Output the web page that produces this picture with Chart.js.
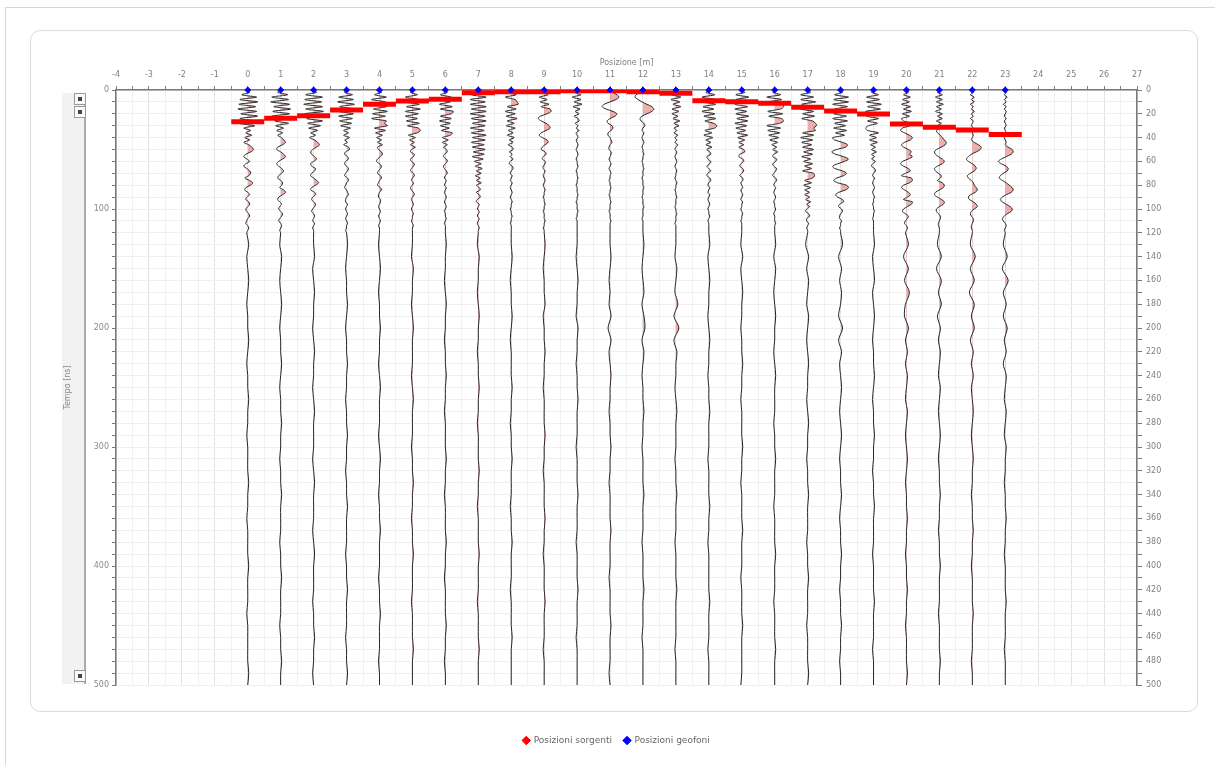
<!DOCTYPE html>
<html>
<head>
<meta charset="utf-8">
<title>Sismogramma</title>
<script src="https://cdn.jsdelivr.net/npm/chart.js@4"></script>
<style>
  html, body { margin: 0; padding: 0; background: #fff; }
  #page { position: relative; width: 1215px; height: 765px; overflow: hidden; }
  .frame { position: absolute; left: 5px; top: 7px; right: -10px; bottom: -10px;
           border-top: 1.5px solid #d6d6d6; border-left: 1.5px solid #d6d6d6; }
  .card { position: absolute; left: 30px; top: 30px; width: 1166px; height: 680px;
          border: 1.5px solid #dcdcdc; border-radius: 10px; }
  .slider { position: absolute; left: 62px; top: 93px; width: 22px; height: 591px;
            background: #f2f2f2; border-right: 2px solid #ababab; }
  .btn { position: absolute; left: 74px; width: 10px; height: 10px;
         border: 1px solid #9a9a9a; background: #fafafa; }
  .btn::after { content: ''; position: absolute; left: 3px; top: 3px; width: 4px; height: 4px; background: #444; }
  canvas { position: absolute; left: 0; top: 0; }
</style>
</head>
<body>
<div id="page">
  <div class="frame"></div>
  <div class="card"></div>
  <div class="slider"></div>
  <div class="btn" style="top:93px"></div>
  <div class="btn" style="top:106px"></div>
  <div class="btn" style="top:670px"></div>
  <canvas id="chart" width="1215" height="765"></canvas>
</div>
<script>
// geophone positions along the line [m]
const geophoneX = [0, 1, 2, 3, 4, 5, 6, 7, 8, 9, 10, 11, 12, 13, 14, 15, 16, 17, 18, 19, 20, 21, 22, 23];
const sourceX = [10.5];

// first-break picks [ns], one per geophone
const firstBreakNs = [26.7, 23.8, 21.6, 16.8, 12.0, 9.3, 7.8, 2.3, 1.4, 1.4, 0.6, 0.6,
                      1.4, 2.8, 9.0, 9.8, 11.2, 14.6, 17.7, 20.2, 28.6, 31.4, 33.7, 37.3];

// sample times [ns]: dense near the top, coarse further down
const headTimesNs = [0, 2, 4, 6, 8, 10, 12, 14, 16, 18, 20, 22, 24, 26, 28, 30, 32, 34, 36, 38,
                     40, 42, 44, 46, 48, 50, 52, 54, 56, 58, 60, 62, 64, 66, 68, 70, 72, 74, 76, 78,
                     80, 82, 84, 86, 88, 90, 92, 94, 96, 98, 100, 102, 104, 106, 108, 110, 112, 114, 116, 118, 120];
const tailTimesNs = [130, 140, 150, 160, 170, 180, 190, 200, 210, 220, 230, 240, 250, 260, 270, 280, 290, 300, 310, 320,
                     330, 340, 350, 360, 370, 380, 390, 400, 410, 420, 430, 440, 450, 460, 470, 480, 490, 500];

// trace amplitudes (1 unit = AMP_M metres of horizontal deflection)
const wiggleHead = [
  [0,2,-6,9,-8,10,-9,8,-10,9, -7,10,-8,6,-9,7,-4,3,-2,4, -3,2,-4,1,4,6,3,-2,-4,-1, 2,-2,-4,-1,2,3,1,-3,2,5, 3,-2,-3,0,2,-1,-2,1,2,0, -2,-1,1,2,0,-1,-2,0,1,0, -1],
  [0,-3,7,-9,8,-10,9,-7,10,-8, 9,-9,7,-6,8,-5,3,-4,2,-3, 1,3,5,2,-3,-4,0,3,5,2, -2,-4,-2,1,3,1,-2,-3,0,2, 1,-1,3,5,2,-2,-3,-1,1,-1, -2,0,2,1,-1,-2,0,1,0,-1, 0],
  [0,3,-8,9,-9,8,-10,9,-8,10, -9,8,-7,9,-6,7,-5,4,-3,2, -4,1,4,6,3,-1,-3,-2,1,3, 0,-3,-2,2,1,-2,-3,0,3,5, 2,-2,-3,1,2,-1,-2,0,2,1, -1,-2,0,1,0,-1,1,0,-1,0, 0],
  [0,-2,6,-8,7,-9,8,-7,9,-8, 7,-8,6,-7,5,-6,4,-3,2,-3, 3,-2,1,-3,2,3,-1,-2,1,2, -1,-2,0,2,1,-1,-2,1,2,0, -1,-2,0,1,2,0,-1,-1,1,0, -1,0,1,0,-1,0,1,0,0,-1, 0],
  [0,2,-5,7,-8,6,-8,7,-6,8, -7,6,-8,7,5,8,-5,6,-4,3, -3,2,-2,3,-2,-1,2,3,1,-2, -3,0,2,1,-1,-2,1,2,0,-1, -2,1,2,0,-1,-1,1,1,0,-1, 0,1,0,-1,0,1,0,-1,0,0, 0],
  [0,-2,5,-7,6,-8,7,-6,8,-7, 6,-7,5,-6,7,-5,6,8,5,-4, 3,-3,2,-2,3,-1,-2,2,1,-2, -1,2,1,-1,-2,1,2,0,-1,1, 0,-2,-1,1,2,0,-1,0,1,0, -1,0,1,0,0,-1,0,1,0,0, 0],
  [0,2,-5,6,-7,5,-6,7,-5,8, 6,-5,6,-6,5,-5,4,-4,7,5, -3,3,-3,2,-2,1,2,-1,-2,1, 2,0,-2,-1,1,2,0,-1,1,0, -1,1,0,-1,0,1,0,-1,0,1, 0,-1,0,0,1,0,-1,0,0,0, 0],
  [0,3,-7,8,-8,7,-8,8,-7,8, -8,7,-7,8,-6,7,-8,6,-7,8, -6,7,-7,6,-6,7,-5,6,-6,5, -4,3,-3,4,-2,3,-3,2,-2,3, -2,1,2,-2,1,2,-1,-2,1,0, -1,1,0,-1,1,0,-1,0,1,0, 0],
  [0,-2,5,-6,4,6,7,-4,5,-6, 4,-5,6,-4,3,-5,4,-3,2,-4, 3,-2,2,-3,1,2,-2,1,-1,2, -1,-2,1,2,0,-1,1,0,-1,1, 0,-1,0,1,0,-1,0,1,0,0, -1,0,0,1,0,0,-1,0,0,0, 0],
  [0,-2,4,-5,3,-4,5,-3,6,7, 3,-4,-6,-3,2,5,6,2,-3,-5, -2,3,4,1,-2,-3,1,2,-1,-2, 1,1,-1,-1,1,0,-1,0,1,0, -1,0,1,0,0,-1,0,0,1,0, 0,-1,0,0,0,1,0,0,-1,0, 0],
  [0,-3,4,-5,4,-3,5,-4,3,-2, 2,-3,1,2,-2,1,-1,2,-1,0, 1,-1,0,1,0,-1,0,1,0,-1, 0,0,1,0,-1,0,0,1,0,0, -1,0,0,0,1,0,0,-1,0,0, 0,1,0,0,-1,0,0,0,0,0, 0],
  [0,3,7,9,6,0,-6,-8,-4,3, 7,5,0,-3,-2,2,3,1,-2,-2, 0,1,2,0,-1,-1,1,1,0,-1, 0,1,0,-1,0,1,0,0,-1,0, 0,1,0,0,-1,0,0,1,0,0, 0,-1,0,0,0,1,0,0,0,0, 0],
  [0,-3,-7,-8,-5,-1,4,9,11,9, 4,-1,-3,-2,1,2,0,-1,1,0, -1,0,1,0,-1,0,0,1,0,0, -1,0,0,1,0,0,0,-1,0,0, 0,1,0,0,0,-1,0,0,0,1, 0,0,0,0,-1,0,0,0,0,0, 0],
  [0,2,-4,5,-5,4,-3,5,-4,3, -4,2,-3,4,-2,3,-2,1,-2,2, -1,1,-1,2,0,-1,1,0,-1,0, 1,0,-1,0,1,0,0,-1,0,1, 0,0,-1,0,0,1,0,0,0,-1, 0,0,1,0,0,0,-1,0,0,0, 0],
  [0,-3,6,-7,6,-7,7,-6,5,-7, 6,-5,7,-4,5,8,6,-4,3,-5, 4,-3,2,-3,3,-2,1,2,-2,-1, 2,1,-2,0,2,-1,-2,1,2,0, -1,1,0,-1,1,0,-1,0,1,0, -1,0,0,1,0,-1,0,0,0,0, 0],
  [0,3,-6,7,-6,7,-7,6,-7,5, -6,7,-5,6,-7,5,-6,4,-5,6, -4,3,-3,2,-3,2,3,-2,-3,1, 2,-1,-2,1,2,0,-2,1,1,-1, 0,1,-1,0,1,0,-1,1,0,0, -1,0,1,0,0,-1,0,0,0,0, 0],
  [0,-2,6,-8,7,-6,8,9,6,-7, 8,-6,7,9,5,-8,6,-7,5,-6, 4,-5,3,-3,2,-2,3,-1,-2,2, 1,-2,-1,2,1,-1,-2,1,2,0, -1,1,0,-1,0,1,0,-1,0,0, 1,0,-1,0,0,0,1,0,0,0, 0],
  [0,3,-7,6,-7,8,-6,7,-7,6, -5,7,-6,5,8,9,6,8,-5,6, -7,5,-6,4,-5,6,-4,5,-6,3, -4,5,-3,4,-5,6,7,5,-3,4, -4,3,-3,2,-3,2,-2,3,-1,2, -1,-2,1,2,-1,-1,1,0,-1,0, 0],
  [0,2,-6,8,-7,8,-8,7,-6,8, -7,6,-8,7,-6,5,-7,6,-5,4, -8,-6,2,7,5,-4,-9,-5,3,8, 4,-3,-8,-6,2,6,3,-4,-7,-3, 6,8,5,-2,-5,-3,2,3,-1,-2, 1,2,0,-1,-1,1,0,0,-1,0, 0],
  [0,-2,5,-7,6,-7,8,-6,7,-8, 6,-7,5,-6,4,-5,-8,-6,5,-4, 3,-4,4,-3,2,-2,3,-2,1,-2, 2,-1,-2,1,2,0,-1,1,0,-1, 0,1,0,-1,0,1,0,0,-1,0, 0,1,0,0,-1,0,0,0,0,0, 0],
  [0,2,-3,4,-4,3,-5,4,-3,5, -4,3,-5,-3,4,3,-4,-6,-2,3, 6,4,-2,-5,-3,2,5,3,6,2, -4,-6,-3,2,4,-1,-5,5,6,3, -3,-5,-2,2,4,1,-3,6,5,1, -3,-4,-1,2,1,-1,-2,0,1,0, -1],
  [0,-2,3,-4,3,-3,4,-3,2,-4, 3,-2,3,-3,2,-2,1,-3,-2,1, 3,5,7,6,2,-3,-5,-4,-1,3, 5,3,-2,-5,-4,-1,2,1,-2,3, 5,4,0,-4,-5,-2,2,5,4,0, -3,-3,-1,1,1,0,-1,-1,0,0, 0],
  [0,1,-2,2,-1,2,-2,1,-1,2, -1,1,-2,1,0,-1,1,-1,0,1, 0,-1,2,6,9,8,4,-1,-4,-6, -4,0,3,4,2,-2,-5,-4,-1,1, 2,4,5,3,-2,-4,-3,1,4,5, 2,-1,-2,-1,1,1,0,-1,-1,0, 0],
  [0,1,-1,2,-1,1,-2,1,-1,1, 0,-1,1,-1,0,1,-1,0,1,0, -1,0,1,0,3,7,8,6,1,-4, -7,-4,1,3,2,-2,-5,-6,-3,1, 4,7,8,6,1,-3,-5,-3,1,5, 7,6,2,-1,-3,-2,0,1,0,-1, 0]
];
const wiggleTail = [
  [1,-1,0,1,0,-1,0,0,1,0, -1,0,0,1,0,0,-1,0,0,0, 1,0,0,-1,0,0,0,1,0,0, 0,-1,0,0,0,0,1,0],
  [-1,1,0,-1,0,1,0,-1,0,0, 1,0,-1,0,0,1,0,0,-1,0, 0,1,0,0,0,-1,0,0,1,0, 0,0,-1,0,0,1,0,0],
  [0,1,-1,0,1,0,0,-1,0,1, 0,0,-1,0,1,0,0,0,-1,0, 1,0,0,0,-1,0,1,0,0,0, -1,0,0,1,0,0,-1,0],
  [1,0,-1,0,0,1,0,-1,0,0, 1,0,0,-1,0,0,1,0,0,-1, 0,0,1,0,0,0,-1,0,0,1, 0,0,0,-1,0,0,1,0],
  [-1,0,1,0,-1,0,0,1,0,0, -1,0,1,0,0,0,-1,0,1,0, 0,-1,0,0,1,0,0,0,-1,0, 0,1,0,0,0,-1,0,0],
  [0,-1,1,0,0,-1,0,1,0,0, 0,-1,0,1,0,0,0,-1,0,0, 1,0,0,-1,0,0,1,0,0,0, -1,0,0,0,1,0,0,0],
  [1,0,0,-1,0,1,0,0,-1,0, 0,1,0,0,-1,0,0,0,1,0, 0,-1,0,0,0,1,0,0,-1,0, 0,0,1,0,0,-1,0,0],
  [-1,1,0,0,-1,0,1,0,0,-1, 0,0,1,0,0,-1,0,0,0,1, 0,0,-1,0,0,0,1,0,0,0, -1,0,0,0,1,0,0,0],
  [0,1,0,-1,0,0,1,0,-1,0, 0,0,1,0,0,-1,0,0,1,0, 0,0,-1,0,0,1,0,0,0,-1, 0,0,0,1,0,0,0,0],
  [1,0,-1,0,0,1,-1,0,0,1, 0,0,-1,0,0,0,1,0,0,-1, 0,0,0,1,0,0,-1,0,0,0, 1,0,0,0,-1,0,0,0],
  [0,-1,0,1,0,0,-1,1,0,0, -1,0,0,1,0,0,0,-1,0,0, 0,1,0,0,0,-1,0,0,0,1, 0,0,0,-1,0,0,0,0],
  [0,1,0,-1,0,-1,1,-2,1,-1, 0,1,0,0,-1,0,0,1,0,0, -1,0,0,0,1,0,0,0,-1,0, 0,0,1,0,0,0,-1,0],
  [1,0,-1,0,1,-1,1,2,-1,1, 0,-1,0,0,1,0,0,-1,0,0, 0,1,0,0,0,-1,0,0,0,1, 0,0,0,-1,0,0,0,0],
  [0,-1,1,0,-1,2,-2,3,-2,1, 0,0,-1,0,1,0,0,0,-1,0, 0,1,0,0,0,-1,0,0,0,1, 0,0,0,0,-1,0,0,0],
  [1,-1,0,1,0,0,-1,0,1,0, 0,-1,0,0,1,0,0,0,-1,0, 0,0,1,0,0,-1,0,0,0,0, 1,0,0,0,-1,0,0,0],
  [-1,1,-1,0,1,0,0,-1,0,0, 1,0,0,-1,0,0,0,1,0,0, -1,0,0,0,1,0,0,0,-1,0, 0,0,1,0,0,0,0,-1],
  [1,-1,1,0,-1,0,1,0,0,-1, 0,1,0,0,0,-1,0,0,1,0, 0,0,-1,0,0,0,1,0,0,0, -1,0,0,0,1,0,0,0],
  [-2,1,-1,1,0,-1,1,0,-1,0, 1,0,0,-1,0,1,0,0,-1,0, 0,1,0,0,0,-1,0,0,1,0, 0,0,-1,0,0,0,1,0],
  [2,-2,1,-1,1,0,-2,2,-2,1, -1,0,1,0,-1,0,1,0,-1,0, 0,1,0,-1,0,0,1,0,0,-1, 0,0,1,0,0,-1,0,0],
  [1,-1,0,1,-1,0,1,0,-1,0, 0,1,0,-1,0,0,1,0,0,-1, 0,0,1,0,0,0,-1,0,0,0, 1,0,0,0,-1,0,0,0],
  [2,-3,2,-2,3,-1,-2,2,-1,1, -1,1,0,-1,1,0,-1,0,1,0, -1,0,0,1,0,0,-1,0,0,1, 0,0,-1,0,0,0,1,0],
  [-2,2,-3,2,-1,2,-2,1,-1,1, 0,-1,1,0,-1,0,1,0,-1,0, 0,1,0,0,-1,0,0,1,0,0, 0,-1,0,0,0,1,0,0],
  [-2,3,-2,2,-3,2,-1,2,-2,1, -1,1,-1,0,1,0,-1,0,1,0, 0,-1,0,0,1,0,0,-1,0,0, 0,1,0,0,0,-1,0,0],
  [-2,2,-3,3,-2,1,-2,2,-1,1, -2,1,0,-1,1,0,-1,1,0,0, -1,0,0,1,0,0,-1,0,0,0, 1,0,0,0,-1,0,0,0]
];

const AMP_M = 0.03;
const LOBE_COLOR = 'rgba(228, 90, 90, 0.5)';
const AXIS_COLOR = '#7a7a7a';

Chart.defaults.font.family = '"DejaVu Sans", sans-serif';
Chart.defaults.font.size = 8;
Chart.defaults.color = '#808080';

// fill only the right-hand (positive) side of a trace: hard-stop gradient at the trace baseline
const positiveFill = xPos => ctx => {
  const chart = ctx.chart;
  const sx = chart.scales.x;
  const px = sx ? sx.getPixelForValue(xPos) : NaN;
  if (!isFinite(px)) return 'rgba(0,0,0,0)';
  const g = chart.ctx.createLinearGradient(px - 0.5, 0, px + 0.5, 0);
  g.addColorStop(0, 'rgba(0,0,0,0)');
  g.addColorStop(0.5, 'rgba(0,0,0,0)');
  g.addColorStop(0.5, LOBE_COLOR);
  g.addColorStop(1, LOBE_COLOR);
  return g;
};

const traceSets = geophoneX.map((gx, i) => {
  const pts = headTimesNs.map((t, k) => ({ x: gx + wiggleHead[i][k] * AMP_M, y: t }))
    .concat(tailTimesNs.map((t, k) => ({ x: gx + wiggleTail[i][k] * AMP_M, y: t })));
  return {
    label: 'Traccia ' + (i + 1),
    data: pts,
    xAxisID: 'x', yAxisID: 'y',
    borderColor: '#262626',
    borderWidth: 1,
    pointRadius: 0,
    tension: 0.3,
    fill: { target: { value: gx } },
    backgroundColor: positiveFill(gx)
  };
});

const pickPoints = [];
geophoneX.forEach((gx, i) => {
  pickPoints.push({ x: gx - 0.5, y: firstBreakNs[i] }, { x: gx + 0.5, y: firstBreakNs[i] }, { x: null, y: null });
});

const datasets = [
  {
    label: 'Posizioni sorgenti',
    data: sourceX.map(x => ({ x: x, y: 0 })),
    xAxisID: 'x', yAxisID: 'y',
    order: 1,               // sits underneath the first-break line
    showLine: false,
    pointStyle: 'rectRot',
    pointRadius: 2.5,
    backgroundColor: '#ff0000',
    borderColor: '#ff0000'
  },
  {
    label: 'Posizioni geofoni',
    data: geophoneX.map(x => ({ x: x, y: 0 })),
    xAxisID: 'x', yAxisID: 'y',
    showLine: false,
    pointStyle: 'rectRot',
    pointRadius: 3,
    backgroundColor: '#0000ff',
    borderColor: '#0000ff',
    clip: false
  },
  {
    label: 'Primi arrivi',
    data: pickPoints,
    xAxisID: 'x', yAxisID: 'y',
    borderColor: '#ff0000',
    borderWidth: 5,
    borderCapStyle: 'butt',
    pointRadius: 0,
    fill: false,
    spanGaps: false
  }
].concat(traceSets);

new Chart(document.getElementById('chart'), {
  type: 'line',
  data: { datasets: datasets },
  options: {
    responsive: false,
    animation: false,
    devicePixelRatio: 1,
    indexAxis: 'y',
    events: [],
    layout: { padding: { left: 58, right: 40, top: 51, bottom: 10 } },
    plugins: {
      tooltip: { enabled: false },
      legend: {
        position: 'bottom',
        labels: {
          usePointStyle: true,
          boxWidth: 6,
          boxHeight: 6,
          padding: 12,
          color: '#666',
          font: { size: 9 },
          sort: (a, b) => a.datasetIndex - b.datasetIndex,
          filter: item => item.datasetIndex < 2
        }
      }
    },
    scales: {
      x: {
        type: 'linear',
        position: 'top',
        min: -4,
        max: 27,
        afterFit: s => { s.height = 39; },
        title: { display: true, text: 'Posizione [m]', color: '#808080', padding: { top: 7, bottom: 0 } },
        ticks: {
          stepSize: 0.5,
          autoSkip: false,
          maxRotation: 0,
          padding: 6,
          callback: v => Number.isInteger(v) ? v : ''
        },
        grid: {
          color: c => Number.isInteger(c.tick.value) ? '#e2e2e2' : '#f1f1f1',
          tickColor: AXIS_COLOR,
          tickLength: 4
        },
        border: { color: AXIS_COLOR, width: 1.5 }
      },
      xb: {
        type: 'linear',
        position: 'bottom',
        afterFit: s => { s.height = 39; },
        ticks: { display: false },
        grid: { display: false },
        border: { display: false }
      },
      y: {
        type: 'linear',
        position: 'left',
        reverse: true,
        min: 0,
        max: 500,
        afterFit: s => { s.width = 58; },
        title: { display: true, text: 'Tempo [ns]', color: '#8a8a8a', padding: { top: 5, bottom: 0 } },
        ticks: {
          stepSize: 10,
          autoSkip: false,
          maxTicksLimit: 1000,
          padding: 3,
          color: '#8a8a8a',
          callback: v => v % 100 === 0 ? v : ''
        },
        grid: { color: '#efefef', tickColor: AXIS_COLOR, tickLength: 4 },
        border: { color: AXIS_COLOR, width: 1.5 }
      },
      y2: {
        type: 'linear',
        position: 'right',
        reverse: true,
        min: 0,
        max: 500,
        afterFit: s => { s.width = 38; },
        ticks: {
          stepSize: 10,
          autoSkip: false,
          maxTicksLimit: 1000,
          padding: 4,
          callback: v => v % 20 === 0 ? v : ''
        },
        grid: { drawOnChartArea: false, tickColor: AXIS_COLOR, tickLength: 5 },
        border: { color: AXIS_COLOR, width: 1.5 }
      }
    }
  }
});
</script>
</body>
</html>
